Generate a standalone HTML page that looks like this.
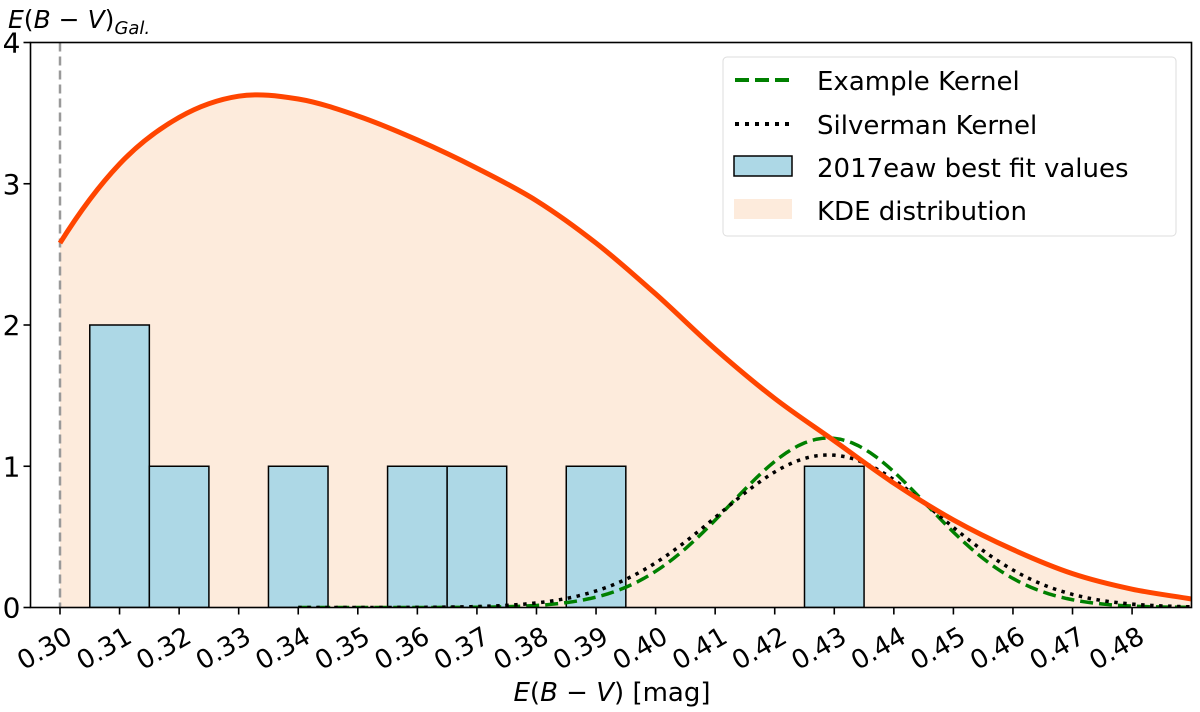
<!DOCTYPE html>
<html><head><meta charset="utf-8"><style>
body{margin:0;background:#fff}
svg{display:block;font-family:"DejaVu Sans","Liberation Sans",sans-serif}
</style></head><body>
<svg id="chart" width="1200" height="712" viewBox="0 0 1200 712">
<g id="fill-layer"></g><g id="bar-layer"></g><g id="line-layer"></g><g id="axis-layer"></g>
<g>
<rect x="723" y="57" width="453" height="179" rx="4" fill="#fff" fill-opacity="0.8" stroke="#ddd"/>
<line x1="735" y1="80" x2="793" y2="80" stroke="#008000" stroke-width="4" stroke-dasharray="14,6"/>
<text x="817" y="90" font-size="26">Example Kernel</text>
<line x1="735" y1="124" x2="793" y2="124" stroke="#000" stroke-width="4" stroke-dasharray="4,6"/>
<text x="817" y="134" font-size="26">Silverman Kernel</text>
<rect x="734" y="156" width="58" height="20" fill="#add8e6" stroke="#000" stroke-width="1.5"/>
<text x="817" y="177" font-size="26">2017eaw best fit values</text>
<rect x="734" y="199" width="58" height="20" fill="#fdebdc"/>
<text x="817" y="220" font-size="26">KDE distribution</text>
</g>
</svg>
<script>
const barCenters=[0.31,0.32,0.34,0.36,0.37,0.39,0.43];
const barCounts=[2,1,1,1,1,1,1];
const kdeX=[0.30,0.31,0.32,0.33,0.34,0.35,0.36,0.37,0.38,0.39,0.40,0.41,0.42,0.43,0.44,0.45,0.46,0.47,0.48,0.49];
const kdeY=[2.58,3.14,3.47,3.62,3.60,3.48,3.31,3.11,2.88,2.58,2.22,1.83,1.48,1.18,0.88,0.62,0.41,0.24,0.13,0.06];
const exampleKernel={mean:0.429,sigma:0.0165,peak:1.2};
const silvermanKernel={mean:0.429,sigma:0.0185,peak:1.08};
const xTicks=[0.30,0.31,0.32,0.33,0.34,0.35,0.36,0.37,0.38,0.39,0.40,0.41,0.42,0.43,0.44,0.45,0.46,0.47,0.48];
const yTicks=[0,1,2,3,4];
const NS='http://www.w3.org/2000/svg';
const X0=30.5,X1=1191.5,Y0=607.5,Y1=42.5;
const xs=v=>60+(v-0.30)*5956;
const ys=v=>Y0-(v/4)*(Y0-Y1);
function mk(tag,attrs,parent){const e=document.createElementNS(NS,tag);for(const k in attrs)e.setAttribute(k,attrs[k]);document.getElementById(parent).appendChild(e);return e;}
function smooth(px,py){const n=px.length;const tan=[];for(let i=0;i<n;i++){if(i===0)tan.push([(px[1]-px[0]),(2*(py[1]-py[0])-(py[2]-py[0])/2)]);else if(i===n-1)tan.push([(px[n-1]-px[n-2]),(py[n-1]-py[n-2])]);else tan.push([(px[i+1]-px[i-1])/2,(py[i+1]-py[i-1])/2]);}
let d=`M${px[0]},${py[0]}`;for(let i=0;i<n-1;i++){d+=` C${px[i]+tan[i][0]/3},${py[i]+tan[i][1]/3} ${px[i+1]-tan[i+1][0]/3},${py[i+1]-tan[i+1][1]/3} ${px[i+1]},${py[i+1]}`;}return d;}
const kpx=kdeX.map(xs),kpy=kdeY.map(ys);
const curve=smooth(kpx,kpy);
const defs=document.createElementNS(NS,'defs');defs.innerHTML='<clipPath id="clip"><rect x="30.5" y="42.5" width="1161" height="565"/></clipPath>';document.getElementById('chart').prepend(defs);
['fill-layer','bar-layer','line-layer'].forEach(id=>document.getElementById(id).setAttribute('clip-path','url(#clip)'));
const f=mk('path',{d:curve+` L${kpx[kpx.length-1]},${Y0} L${kpx[0]},${Y0} Z`,fill:'#fdebdc'},'fill-layer');


barCenters.forEach((c,i)=>{const r=mk('rect',{x:xs(c-0.005),y:ys(barCounts[i]),width:xs(c+0.005)-xs(c-0.005),height:Y0-ys(barCounts[i]),fill:'#add8e6',stroke:'#000','stroke-width':1.5},'bar-layer');

});
const gv=mk('line',{x1:xs(0.30),x2:xs(0.30),y1:Y1,y2:Y0,stroke:'#999','stroke-width':2.5,'stroke-dasharray':'9,5'},'line-layer');


function gauss(k,dash,col,name){const pts=[];for(let v=0.34;v<=0.4901;v+=0.001){pts.push(xs(v)+','+ys(k.peak*Math.exp(-((v-k.mean)**2)/(2*k.sigma**2))));}
const p=mk('polyline',{points:pts.join(' '),fill:'none',stroke:col,'stroke-width':3.5,'stroke-dasharray':dash},'line-layer');

}
gauss(exampleKernel,'13,6','#008000','example-kernel-line');
gauss(silvermanKernel,'3.5,5.5','#000','silverman-kernel-line');
const kl=mk('path',{d:curve,fill:'none',stroke:'#ff4500','stroke-width':5},'line-layer');


const fr=mk('rect',{x:X0,y:Y1,width:X1-X0,height:Y0-Y1,fill:'none',stroke:'#000','stroke-width':1.6},'axis-layer');


xTicks.forEach(t=>{const x=xs(t);mk('line',{x1:x,x2:x,y1:Y0,y2:Y0+7,stroke:'#000','stroke-width':1.6},'axis-layer');
const tx=mk('text',{x:x+14,y:Y0+34,'font-size':26,'text-anchor':'end',transform:`rotate(-30 ${x+14} ${Y0+34})`},'axis-layer');tx.textContent=t.toFixed(2);

});
yTicks.forEach(t=>{const y=ys(t);mk('line',{x1:X0-7,x2:X0,y1:y,y2:y,stroke:'#000','stroke-width':1.6},'axis-layer');
const tx=mk('text',{x:X0-10,y:y+10,'font-size':28,'text-anchor':'end'},'axis-layer');tx.textContent=t;

});
</script>
<svg style="position:absolute;left:0;top:0" width="1200" height="712">
<text x="8" y="28" font-size="25" font-family="DejaVu Sans,sans-serif"><tspan font-style="italic">E</tspan>(<tspan font-style="italic">B</tspan> − <tspan font-style="italic">V</tspan>)<tspan font-style="italic" font-size="18" dy="6">Gal.</tspan></text>
<text x="612" y="701" font-size="26" text-anchor="middle" font-family="DejaVu Sans,sans-serif"><tspan font-style="italic">E</tspan>(<tspan font-style="italic">B</tspan> − <tspan font-style="italic">V</tspan>) [mag]</text>
</svg>
</body></html>
